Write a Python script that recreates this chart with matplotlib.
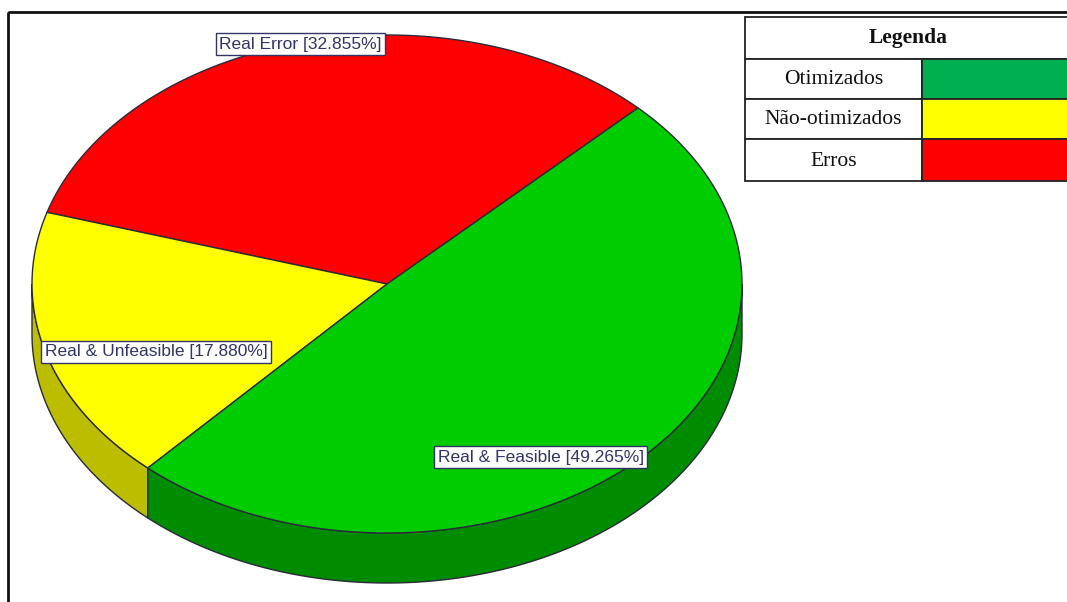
import numpy as np
import matplotlib.pyplot as plt
from matplotlib.patches import Polygon, Rectangle

# ---------------- dados
rotulos = ['Real Error', 'Real & Unfeasible', 'Real & Feasible']
percentuais = [32.855, 17.880, 49.265]
cores_topo = ['#ff0000', '#ffff00', '#00cc00']
cores_lado = ['#b00000', '#bdbd00', '#008c00']

legenda_titulo = 'Legenda'
legenda_itens = ['Otimizados', 'Não-otimizados', 'Erros']
legenda_cores = ['#00b050', '#ffff00', '#ff0000']

# ---------------- geometria (pixels)
W, H = 1067, 602
cx, cy = 387, 284
rx, ry = 355, 249
prof = 50
angulo_inicial = 45.0
cor_borda = '#2a2a3a'
cor_texto = '#333366'

fig = plt.figure(figsize=(W / 100, H / 100), dpi=100)
ax = fig.add_axes([0, 0, 1, 1])
ax.set_xlim(0, W)
ax.set_ylim(H, 0)
ax.axis('off')

# moldura
ax.add_patch(Rectangle((8, 12), W + 50, H + 50, fill=False, lw=2, ec='#111111', zorder=1))


def ponto(theta, dy=0):
    t = np.radians(theta)
    return cx + rx * np.cos(t), cy - ry * np.sin(t) + dy


# limites angulares das fatias
fracs = np.array(percentuais) / sum(percentuais)
limites = angulo_inicial + 360 * np.concatenate([[0], np.cumsum(fracs)])

# faces laterais (parte frontal, 180..360)
for i in range(len(percentuais)):
    a0, a1 = limites[i], limites[i + 1]
    for f0, f1 in [(180, 360), (540, 720)]:
        s0, s1 = max(a0, f0), min(a1, f1)
        if s1 <= s0:
            continue
        th = np.linspace(s0, s1, 200)
        topo = [ponto(t) for t in th]
        base = [ponto(t, prof) for t in th[::-1]]
        ax.add_patch(Polygon(topo + base, closed=True, fc=cores_lado[i],
                             ec=cor_borda, lw=1, zorder=2))

# faces superiores
for i in range(len(percentuais)):
    th = np.linspace(limites[i], limites[i + 1], 300)
    pts = [(cx, cy)] + [ponto(t) for t in th]
    ax.add_patch(Polygon(pts, closed=True, fc=cores_topo[i],
                         ec=cor_borda, lw=1, zorder=3))

# rótulos
for i, rot in enumerate(rotulos):
    meio = (limites[i] + limites[i + 1]) / 2
    x, y = ponto(meio)
    c = np.cos(np.radians(meio))
    ha = 'left' if c < -0.5 else ('right' if c > 0.5 else 'center')
    ax.text(x, y + 1.5, f'{rot} [{percentuais[i]:.3f}%]', ha=ha, va='center',
            fontsize=12.5, family='Liberation Sans', color=cor_texto, zorder=5,
            bbox=dict(boxstyle='square,pad=0.2', fc='white', ec=cor_texto, lw=1))

# tabela de legenda
lx0, lx1, lx2 = 745, 922, 1120
linhas_y = [17, 59, 99, 139, 181]
kw = dict(family='Liberation Serif', color='#111111', zorder=6)
ax.add_patch(Rectangle((lx0, linhas_y[0]), lx2 - lx0, linhas_y[1] - linhas_y[0],
                       fc='white', ec='#222222', lw=1.3, zorder=5))
ax.text(908, (linhas_y[0] + linhas_y[1]) / 2, legenda_titulo,
        ha='center', va='center', fontsize=15.5, weight='bold', **kw)
for i, item in enumerate(legenda_itens):
    y0, y1 = linhas_y[i + 1], linhas_y[i + 2]
    ax.add_patch(Rectangle((lx0, y0), lx1 - lx0, y1 - y0, fc='white',
                           ec='#222222', lw=1.3, zorder=5))
    ax.add_patch(Rectangle((lx1, y0), lx2 - lx1, y1 - y0, fc=legenda_cores[i],
                           ec='#222222', lw=1.3, zorder=5))
    ax.text((lx0 + lx1) / 2, (y0 + y1) / 2 + 1, item, ha='center', va='center',
            fontsize=15.5, **kw)

fig.savefig('out.png', dpi=100)
